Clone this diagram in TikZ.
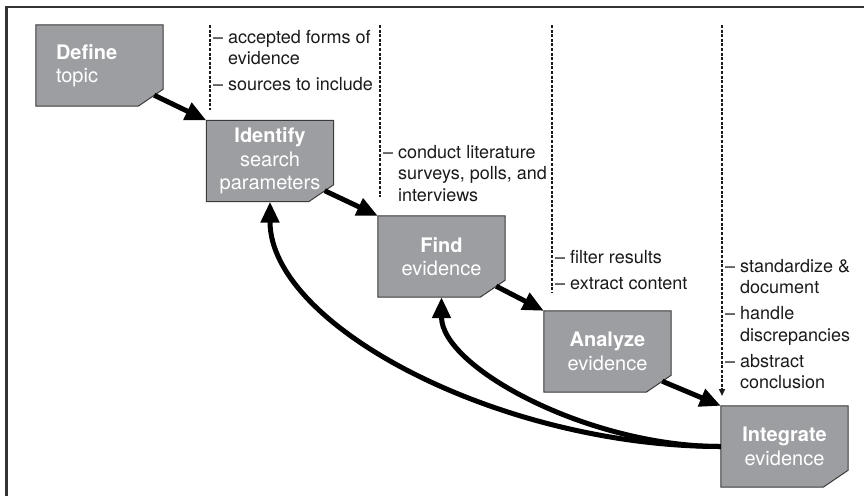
\documentclass[tikz,border=0pt]{standalone}
\usepackage{fontspec}
\setmainfont{TeX Gyre Heros}
\usetikzlibrary{arrows.meta,calc,backgrounds}
\definecolor{boxgray}{HTML}{9D9EA2}
\definecolor{boxline}{HTML}{3A3A3A}
\definecolor{ink}{HTML}{1A1A1A}
\definecolor{framecol}{HTML}{333333}
\begin{document}
\begin{tikzpicture}[x=1pt,y=-1pt,
  stepnode/.style={minimum width=127pt, minimum height=81pt, inner sep=0pt,
    text=white, align=center, font=\fontsize{20}{23.5}\selectfont},
  boxshape/.style={fill=boxgray, draw=boxline, line width=1pt},
  flow/.style={line width=5pt, draw=black, -{Triangle[length=21pt,width=18pt]}},
  guide/.style={line width=1.5pt, draw=ink, dash pattern=on 3pt off 1.6pt},
  note/.style={inner sep=0pt, anchor=base west, text=ink, font=\fontsize{18}{21.5}\selectfont},
  frameline/.style={line width=2.2pt, draw=framecol}]
\useasboundingbox (0,0) rectangle (864,496);
% frame (top and left edges)
\draw[frameline] (864,7) -- (6.5,7) -- (6.5,496);

% step nodes
\node[stepnode, align=left, text width=87pt] (define) at (99.5,65.5) {\textbf{Define}\\topic};
\node[stepnode] (identify) at (270,161) {\textbf{Identify}\\search\\parameters};
\node[stepnode] (find) at (441.5,256.5) {\textbf{Find}\\evidence};
\node[stepnode] (analyze) at (607.5,351.5) {\textbf{Analyze}\\evidence};
\node[stepnode] (integrate) at (784.5,446.5) {\textbf{Integrate}\\evidence};

\begin{scope}[on background layer]
\foreach \n in {define,identify,find,analyze,integrate}
  \draw[boxshape] (\n.north west) -- (\n.north east) -- ($(\n.south east)+(0,-17)$)
    -- ($(\n.south east)+(-25,0)$) -- (\n.south west) -- cycle;
\end{scope}

% dashed guides
\coordinate (d1a) at (210,25);  \coordinate (d1b) at (210,110);
\coordinate (d2a) at (380,25);  \coordinate (d2b) at (380,197);
\coordinate (d3a) at (552,25);  \coordinate (d3b) at (552,292);
\coordinate (d4a) at (722,25);  \coordinate (d4b) at (722,396);
\draw[guide] (d1a) -- (d1b);
\draw[guide] (d2a) -- (d2b);
\draw[guide] (d3a) -- (d3b);
\draw[guide, -{Triangle[length=7pt,width=6pt]}] (d4a) -- (d4b);

% annotations
\node[note] (n1) at (213,43) {\begin{tabular}[t]{@{}l@{}}– accepted forms of\\\hphantom{– }evidence\\[4.5pt]– sources to include\end{tabular}};
\node[note] (n2) at (383,158) {\begin{tabular}[t]{@{}l@{}}– conduct literature\\\hphantom{– }surveys, polls, and\\\hphantom{– }interviews\end{tabular}};
\node[note] (n3) at (555,263) {\begin{tabular}[t]{@{}l@{}}– filter results\\[4.5pt]– extract content\end{tabular}};
\node[note] (n4) at (725,272) {\begin{tabular}[t]{@{}l@{}}– standardize \&\\\hphantom{– }document\\[4.5pt]– handle\\\hphantom{– }discrepancies\\[4.5pt]– abstract\\\hphantom{– }conclusion\end{tabular}};

% flow arrows
\draw[flow] ($(define.south east)+(-9,-11)$) -- (identify.north west);
\draw[flow] ($(identify.south east)+(-9,-11)$) -- (find.north west);
\draw[flow] ($(find.south east)+(-9,-11)$) -- (analyze.north west);
\draw[flow] ($(analyze.south east)+(-9,-11)$) -- (integrate.north west);

% feedback curves
\draw[flow] (integrate.west) .. controls +(-221,0) and +(0,124) .. (identify.south);
\draw[flow] (integrate.west) .. controls +(-133,0) and +(0,70) .. (find.south);
\end{tikzpicture}
\end{document}
